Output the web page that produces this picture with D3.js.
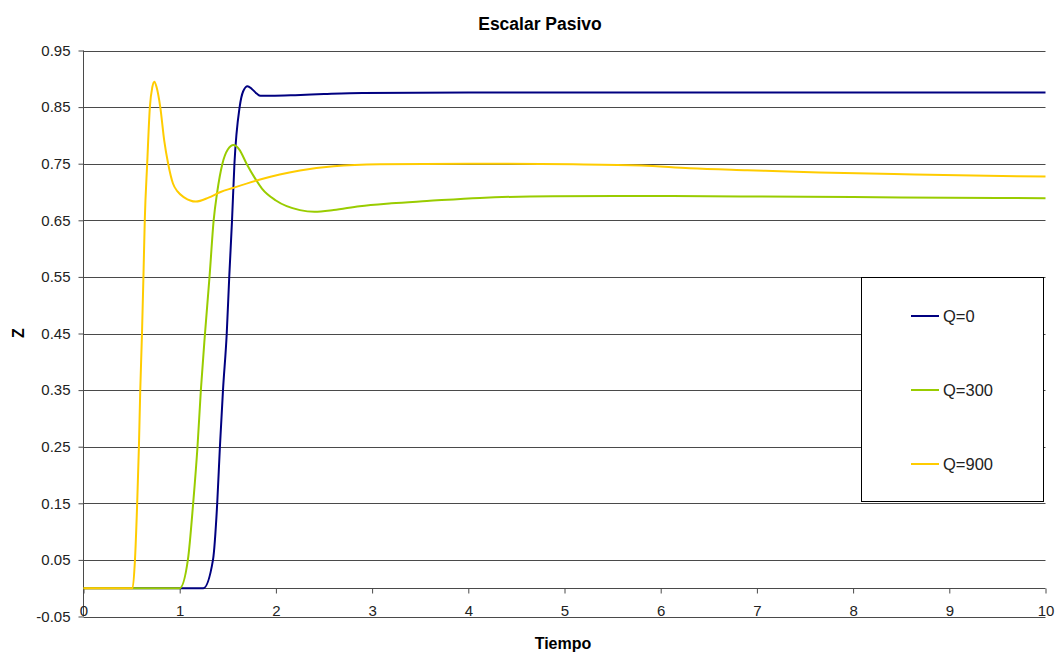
<!DOCTYPE html>
<html>
<head>
<meta charset="utf-8">
<script src="https://cdn.jsdelivr.net/npm/d3@7"></script>
<style>
  html, body { margin: 0; padding: 0; background: #fff; }
  svg { display: block; font-family: Arial, "Liberation Sans", sans-serif; }
</style>
</head>
<body>
<svg id="chart" width="1058" height="653"></svg>
<script>
// ---- data ----
const title = "Escalar Pasivo";
const xLabel = "Tiempo";
const yLabel = "Z";
const seriesNames = ["Q=0", "Q=300", "Q=900"];
const seriesColors = ["#000080", "#99CC00", "#FFCC00"];

const xTicks = [0, 1, 2, 3, 4, 5, 6, 7, 8, 9, 10];
const yTicks = [-0.05, 0.05, 0.15, 0.25, 0.35, 0.45, 0.55, 0.65, 0.75, 0.85, 0.95];

const tQ0 = [0, 1.246, 1.346, 1.39, 1.418, 1.45, 1.489, 1.515, 1.544, 1.569, 1.623, 1.66, 1.705, 1.75, 1.8, 1.84, 1.95, 2.2, 2.5, 2.9, 4, 6, 8, 10];
const zQ0 = [0, 0, 0.05, 0.15, 0.25, 0.35, 0.45, 0.55, 0.65, 0.75, 0.85, 0.878, 0.887, 0.882, 0.874, 0.870, 0.870, 0.871, 0.873, 0.875, 0.876, 0.876, 0.876, 0.876];

const tQ300 = [0, 1.0, 1.085, 1.14, 1.185, 1.22, 1.263, 1.31, 1.353, 1.39, 1.444, 1.5, 1.56, 1.62, 1.695, 1.78, 1.855, 2.0, 2.25, 2.4, 2.6, 2.87, 3.2, 3.57, 4.12, 4.88, 6, 7, 8, 9, 10];
const zQ300 = [0, 0, 0.05, 0.15, 0.25, 0.35, 0.45, 0.55, 0.65, 0.70, 0.75, 0.775, 0.783, 0.775, 0.75, 0.725, 0.706, 0.685, 0.668, 0.665, 0.668, 0.675, 0.68, 0.684, 0.6896, 0.6925, 0.693, 0.692, 0.691, 0.690, 0.689];

const tQ900 = [0, 0.51, 0.535, 0.558, 0.576, 0.59, 0.608, 0.623, 0.637, 0.662, 0.69, 0.715, 0.737, 0.76, 0.798, 0.84, 0.88, 0.93, 0.977, 1.05, 1.168, 1.3, 1.425, 1.55, 1.855, 2.04, 2.25, 2.6, 3.08, 4, 5.09, 5.8, 6.3, 6.9, 7.24, 7.65, 8.64, 9.7, 10];
const zQ900 = [0, 0, 0.05, 0.15, 0.25, 0.35, 0.45, 0.55, 0.65, 0.75, 0.85, 0.885, 0.895, 0.885, 0.85, 0.79, 0.75, 0.715, 0.701, 0.69, 0.683, 0.69, 0.70, 0.707, 0.723, 0.731, 0.738, 0.7455, 0.749, 0.75, 0.749, 0.747, 0.742, 0.7385, 0.7367, 0.7345, 0.731, 0.728, 0.7275];

const seriesT = [tQ0, tQ300, tQ900];
const seriesZ = [zQ0, zQ300, zQ900];

// ---- layout ----
const svg = d3.select("#chart");
const plotL = 83.5, plotR = 1045.5, plotT = 50.5, plotB = 616.5;
const FONT = "Arial, 'Liberation Sans', sans-serif";

const x = d3.scaleLinear().domain([0, 10]).range([plotL, plotR]);
const y = d3.scaleLinear().domain([-0.05, 0.95]).range([plotB, plotT]);

// gridlines
svg.append("g").selectAll("line").data(yTicks).join("line")
  .attr("x1", plotL).attr("x2", plotR)
  .attr("y1", d => Math.round(y(d)) + 0.5).attr("y2", d => Math.round(y(d)) + 0.5)
  .attr("stroke", "#4a4a4a").attr("stroke-width", 1);

// left axis
const fmtY = d => d.toFixed(2);
const yAxis = d3.axisLeft(y).tickValues(yTicks).tickFormat(fmtY).tickSize(5).tickPadding(8);
const gy = svg.append("g").attr("transform", `translate(${plotL},0)`).call(yAxis);
gy.select(".domain").attr("stroke", "#4a4a4a").attr("d", `M0,${y(0.95)}V${y(-0.05)}`);
gy.selectAll(".tick line").attr("stroke", "#4a4a4a");
gy.selectAll(".tick text").attr("font-size", 15).attr("fill", "#222").attr("font-family", FONT);

// x axis at z = 0
const zeroY = Math.round(y(0)) + 0.5;
const xAxis = d3.axisBottom(x).tickValues(xTicks).tickFormat(d => String(d)).tickSize(5).tickPadding(8);
const gx = svg.append("g").attr("transform", `translate(0,${zeroY})`).call(xAxis);
gx.select(".domain").attr("stroke", "#4a4a4a").attr("d", `M${plotL},0H${plotR}`);
gx.selectAll(".tick line").attr("stroke", "#4a4a4a");
gx.selectAll(".tick text").attr("font-size", 15).attr("fill", "#222").attr("font-family", FONT)
  .attr("dy", 0).attr("y", 616 - zeroY);

// series lines
const line = d3.line().x(d => x(d[0])).y(d => y(d[1])).curve(d3.curveMonotoneX);
seriesNames.forEach((name, i) => {
  const pts = seriesT[i].map((t, j) => [t, seriesZ[i][j]]);
  svg.append("path").datum(pts)
    .attr("d", line)
    .attr("fill", "none")
    .attr("stroke", seriesColors[i])
    .attr("stroke-width", 2)
    .attr("stroke-linejoin", "round");
});

// legend
const lg = svg.append("g");
lg.append("rect").attr("x", 861.5).attr("y", 277.5).attr("width", 182).attr("height", 224)
  .attr("fill", "#fff").attr("stroke", "#000").attr("stroke-width", 1);
const legendY = [316, 390, 464];
seriesNames.forEach((name, i) => {
  lg.append("line").attr("x1", 911).attr("x2", 939).attr("y1", legendY[i]).attr("y2", legendY[i])
    .attr("stroke", seriesColors[i]).attr("stroke-width", 2);
  lg.append("text").attr("x", 943).attr("y", legendY[i] + 5.5).attr("font-size", 16.5)
    .attr("fill", "#222").text(name);
});

// titles
svg.append("text").attr("x", 540).attr("y", 29.5).attr("text-anchor", "middle")
  .attr("font-size", 17.5).attr("font-weight", "bold").text(title);
svg.append("text").attr("x", 563).attr("y", 649).attr("text-anchor", "middle")
  .attr("font-size", 16).attr("font-weight", "bold").text(xLabel);
svg.append("text").attr("transform", "translate(23.5,333) rotate(-90)").attr("text-anchor", "middle")
  .attr("font-size", 16).attr("font-weight", "bold").text(yLabel);
</script>
</body>
</html>
